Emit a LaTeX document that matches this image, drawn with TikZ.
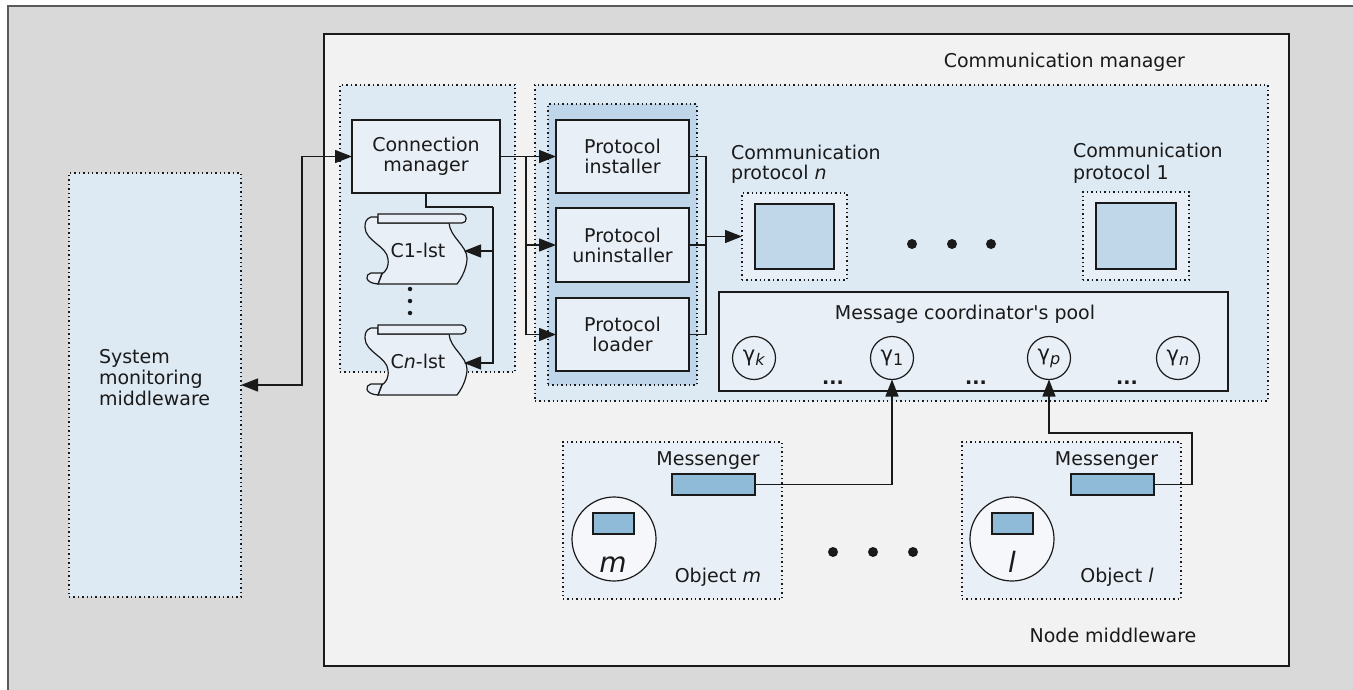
\documentclass[tikz,border=0pt]{standalone}
\usepackage{fontspec}
\newfontfamily\mainf{DejaVu Sans}
\usetikzlibrary{arrows.meta}
\definecolor{bgframe}{HTML}{D9D9D9}
\definecolor{framedraw}{HTML}{5A5A5A}
\definecolor{nodebg}{HTML}{F2F2F2}
\definecolor{contbg}{HTML}{DEEAF3}
\definecolor{grpbg}{HTML}{BFD6EA}
\definecolor{boxbg}{HTML}{E9EFF7}
\definecolor{msgbg}{HTML}{8FBBD9}
\definecolor{sqbg}{HTML}{C0D7EA}
\definecolor{circbg}{HTML}{F5F7FA}
\definecolor{ink}{HTML}{1A1A1A}
\newcommand\lbl{\mainf\fontsize{19}{20}\selectfont}
\newcommand\gsub[1]{{\fontsize{21}{21}\selectfont γ}\raisebox{-0.4ex}{\fontsize{16}{16}\selectfont #1}}
\newcommand\scrollshape{%
  \filldraw[fill=boxbg, draw=ink, line width=1.2pt]
   (13,4) -- (6,4) .. controls (1,6) and (0,9) .. (0,14)
   .. controls (0,28) and (22,33) .. (23,46)
   .. controls (24,54) and (21,58) .. (17,61)
   -- (13,71) -- (92,71)
   .. controls (99,62) and (102,52) .. (102,45)
   .. controls (102,33) and (85,24) .. (84,10)
   -- (13,10) -- cycle;
  \filldraw[fill=boxbg, draw=ink, line width=1.2pt]
   (17,60) -- (6,60) .. controls (0,61) and (-1,70) .. (13,71) -- cycle;
  \filldraw[fill=boxbg, draw=ink, line width=1.2pt]
   (13,1) -- (97,1) .. controls (102,1) and (103,10) .. (97,10) -- (13,10) -- cycle;
}
\begin{document}
\begin{tikzpicture}[x=1pt,y=-1pt,
  every node/.style={font=\lbl, text=ink, inner sep=0pt, outer sep=0pt},
  dotbox/.style={draw=ink, line width=1.2pt, dash pattern=on 1.4pt off 3pt},
  solidbox/.style={draw=ink, line width=1.3pt, fill=boxbg, align=center},
  conn/.style={draw=ink, line width=1.4pt},
  arr/.style={conn, -{Triangle[length=17pt,width=13pt]}},
  bi/.style={conn, {Triangle[length=17pt,width=13pt]}-{Triangle[length=17pt,width=13pt]}},
  bigdot/.style={fill=ink, circle, minimum size=10pt},
  smalldot/.style={fill=ink, circle, minimum size=4.5pt},
  gcirc/.style={draw=ink, line width=1.2pt, fill=boxbg, circle, minimum size=43pt},
]
\useasboundingbox (0,0) rectangle (1353,690);
\clip (0,0) rectangle (1353,690);
% outer frame
\fill[bgframe] (8,6) rectangle (1370,700);
\draw[framedraw, line width=2.5pt] (8,700) -- (8,6) -- (1370,6);

% node middleware
\node[draw=ink, line width=2pt, fill=nodebg, minimum width=965pt, minimum height=632pt] (nm) at (806.5,350) {};
\node[anchor=base] (nmlbl) at (1113,642) {Node middleware};
\node[anchor=base east] (cmlbl) at (1185,68) {Communication manager};

% system monitoring middleware
\node[dotbox, fill=contbg, minimum width=172pt, minimum height=424pt] (smm) at (155,385) {};
\node[anchor=base west] (smm1) at (99,363) {System};
\node[anchor=base west] (smm2) at (99,384) {monitoring};
\node[anchor=base west] (smm3) at (99,405) {middleware};

% containers
\node[dotbox, fill=contbg, minimum width=175pt, minimum height=287pt] (connc) at (427.5,228.5) {};
\node[dotbox, fill=contbg, minimum width=733pt, minimum height=316pt] (commc) at (901.5,243) {};
\node[dotbox, fill=grpbg, minimum width=149pt, minimum height=281pt] (grp) at (622.5,244.5) {};

% boxes
\node[solidbox, minimum width=148pt, minimum height=73pt] (cm) at (426,156.5) {Connection\\manager};
\node[solidbox, minimum width=133pt, minimum height=73pt] (pi) at (622.5,156.5) {Protocol\\installer};
\node[solidbox, minimum width=133pt, minimum height=74pt] (pu) at (622.5,245) {Protocol\\uninstaller};
\node[solidbox, minimum width=133pt, minimum height=73pt] (pl) at (622.5,334.5) {Protocol\\loader};

% lists
\begin{scope}[shift={(365,213)}]\scrollshape\end{scope}
\begin{scope}[shift={(365,324)}]\scrollshape\end{scope}
\node (c1) at (418,250) {C1-lst};
\node (cn) at (418,361) {C\textit{n}-lst};
\coordinate (c1tip) at (464,251);
\coordinate (cntip) at (464,363);
\node[smalldot] (vd1) at (410,289) {};
\node[smalldot] (vd2) at (410,301) {};
\node[smalldot] (vd3) at (410,313) {};

% communication protocols
\node[dotbox, fill=boxbg, minimum width=105pt, minimum height=87pt] (cpn) at (794.5,236.5) {};
\node[draw=ink, line width=1.3pt, fill=sqbg, minimum width=79pt, minimum height=65pt] (cpnsq) at (794.5,236.5) {};
\node[anchor=base west] (cpnl1) at (731,160) {Communication};
\node[anchor=base west] (cpnl2) at (731,180) {protocol \textit{n}};
\node[dotbox, fill=boxbg, minimum width=106pt, minimum height=88pt] (cp1) at (1136,236) {};
\node[draw=ink, line width=1.3pt, fill=sqbg, minimum width=80pt, minimum height=66pt] (cp1sq) at (1136,236) {};
\node[anchor=base west] (cp1l1) at (1073,158) {Communication};
\node[anchor=base west] (cp1l2) at (1073,180) {protocol 1};
\node[bigdot] (bd1) at (912,244) {};
\node[bigdot] (bd2) at (952,244) {};
\node[bigdot] (bd3) at (991,244) {};

% pool
\node[solidbox, minimum width=509pt, minimum height=99pt] (pool) at (973.5,341.5) {};
\node[anchor=base] (poollbl) at (965,319) {Message coordinator's pool};
\node[gcirc] (gk) at (754,358) {\gsub{\textit{k}}};
\node[gcirc] (g1) at (892,358) {\gsub{1}};
\node[gcirc] (gp) at (1049,358) {\gsub{\textit{p}}};
\node[gcirc] (gn) at (1178,358) {\gsub{\textit{n}}};
\node[anchor=base] (el1) at (833,384) {\textbf{...}};
\node[anchor=base] (el2) at (976,384) {\textbf{...}};
\node[anchor=base] (el3) at (1127,384) {\textbf{...}};

% objects
\node[dotbox, fill=boxbg, minimum width=219pt, minimum height=157pt] (objm) at (672.5,520.5) {};
\node[draw=ink, line width=1.2pt, fill=msgbg, minimum width=83pt, minimum height=21pt] (msgm) at (713.5,484.5) {};
\node[anchor=base] (msgmlbl) at (708,465) {Messenger};
\node[draw=ink, line width=1.2pt, fill=circbg, circle, minimum size=84pt] (om) at (614,539) {};
\node[draw=ink, line width=1.2pt, fill=msgbg, minimum width=41pt, minimum height=21pt] (omr) at (613.5,523.5) {};
\node[anchor=base, font=\mainf\fontsize{28}{28}\selectfont\itshape] (oml) at (613,572) {m};
\node[anchor=base] (objmlbl) at (718,582) {Object \textit{m}};

\node[dotbox, fill=boxbg, minimum width=219pt, minimum height=157pt] (objl) at (1071.5,520.5) {};
\node[draw=ink, line width=1.2pt, fill=msgbg, minimum width=83pt, minimum height=21pt] (msgl) at (1112.5,484.5) {};
\node[anchor=base] (msgllbl) at (1106.5,465) {Messenger};
\node[draw=ink, line width=1.2pt, fill=circbg, circle, minimum size=84pt] (ol) at (1012,539) {};
\node[draw=ink, line width=1.2pt, fill=msgbg, minimum width=41pt, minimum height=21pt] (olr) at (1012.5,523.5) {};
\node[anchor=base, font=\mainf\fontsize{28}{28}\selectfont\itshape] (oll) at (1012,572) {l};
\node[anchor=base] (objllbl) at (1117,582) {Object \textit{l}};

\node[bigdot] (od1) at (833,552) {};
\node[bigdot] (od2) at (873,552) {};
\node[bigdot] (od3) at (913,552) {};

% connectors
\path (smm.east) ++(61,0) coordinate (smmk);
\draw[bi] (smm.east) -- (smmk) |- (cm.west);
\draw[arr] (cm.east) -- (pi.west);
\path (cm.east) ++(26,0) coordinate (bus);
\draw[arr] (bus) |- (pu.west);
\draw[arr] (bus) |- (pl.west);
\path (cm.south) ++(0,14) coordinate (lk);
\coordinate (lbus) at (493,207);
\draw[conn] (cm.south) -- (lk) -- (lbus);
\draw[arr] (lbus) |- (c1tip);
\draw[arr] (lbus) |- (cntip);
\path (pi.east) ++(17,0) coordinate (pbT);
\coordinate (pbB) at (pbT |- pl.east);
\draw[conn] (pi.east) -- (pbT) -- (pbB) -- (pl.east);
\draw[conn] (pu.east) -- (pu.east -| pbT);
\draw[arr] (pbT |- cpn.west) -- (cpn.west);
\draw[arr] (msgm.east) -| (g1.south);
\path (msgl.east) ++(38,0) coordinate (lr);
\path (lr) ++(0,-51.5) coordinate (lt);
\draw[arr] (msgl.east) -- (lr) -- (lt) -| (gp.south);
\end{tikzpicture}
\end{document}
